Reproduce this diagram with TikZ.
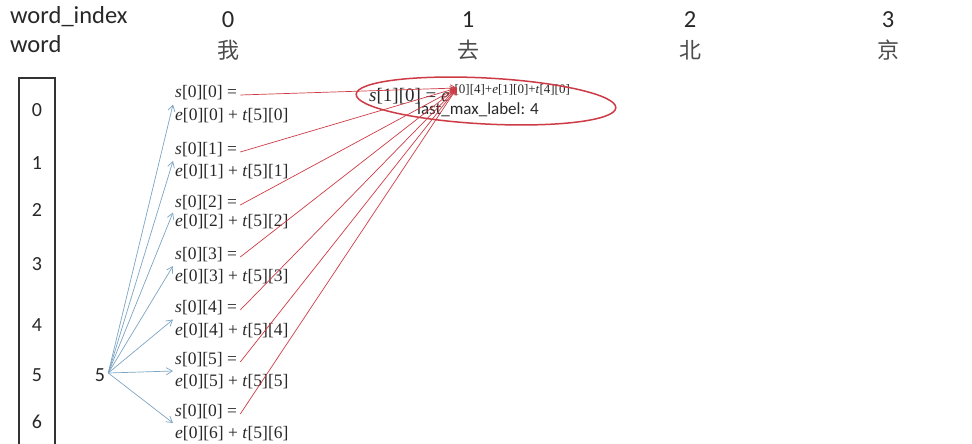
\documentclass[tikz,border=0pt]{standalone}
\usepackage{fontspec}
\setmainfont{Liberation Serif}
\newfontfamily\sansc{Carlito}
\newfontfamily\cjk{Noto Sans CJK SC}
\usetikzlibrary{arrows.meta,calc}
\definecolor{bluearr}{RGB}{125,165,195}
\definecolor{redarr}{RGB}{205,60,70}
\definecolor{txt}{RGB}{40,40,40}
\newcommand{\mi}[1]{\textit{#1}}
\begin{document}
\begin{tikzpicture}[x=1pt,y=-1pt,
  hdr/.style={font=\sansc\fontsize{24.5}{24.5}\selectfont, text=txt, inner sep=0pt},
  hanzi/.style={font=\cjk\fontsize{22}{22}\selectfont, text=black!70, inner sep=0pt},
  idx/.style={font=\sansc\fontsize{20}{20}\selectfont, text=txt, inner sep=0pt},
  lab/.style={font=\fontsize{17.5}{17.5}\selectfont, text=txt, inner sep=0pt, anchor=west},
  bluea/.style={draw=bluearr, line width=0.7pt, -{Straight Barb[length=6pt,width=7pt]}},
  reda/.style={draw=redarr, line width=0.7pt, -{Straight Barb[length=6pt,width=7pt]}}
]
\useasboundingbox (0,0) rectangle (972,444);
\fill[white] (0,0) rectangle (972,444);

% headers
\node[hdr, anchor=west] (wi) at (10,17) {word\_index};
\node[hdr, anchor=west] (wd) at (10,44) {word};
\node[hdr] (c0) at (228,20) {0};
\node[hdr] (c1) at (468,20) {1};
\node[hdr] (c2) at (690,20) {2};
\node[hdr] (c3) at (888,20) {3};
\node[hanzi] (h0) at (228,50) {我};
\node[hanzi] (h1) at (468,50) {去};
\node[hanzi] (h2) at (690,50) {北};
\node[hanzi] (h3) at (888,50) {京};

% label box
\draw[line width=1.1pt, draw=black!80] (19,449) -- (19,78) -- (55,78) -- (55,449);
\foreach \i/\y in {0/110,1/163,2/210,3/264,4/325,5/375,6/422}{
  \node[idx] (b\i) at (37,\y) {\i};
}

% source tag
\node[idx] (src) at (100,375) {5};

% s/e labels
\foreach \k/\ys/\ye/\ss in {0/93/116/0,1/150/172/1,2/203/222/2,3/255/277/3,4/308/331/4,5/360/382/5,6/412/434/0}{
  \node[lab] (s\k) at (175,\ys) {\mi{s}[0][\ss] =};
  \node[lab] (e\k) at (175,\ye) {\mi{e}[0][\k] + \mi{t}[5][\k]};
  \coordinate (m\k) at ($(s\k.west)!0.5!(e\k.west)$);
}

% formula in column 1
\node[anchor=west, inner sep=0pt, text=txt, font=\fontsize{19}{19}\selectfont] (f) at (369,94)
  {\mi{s}[1][0] = \mi{e}\raisebox{8pt}{\fontsize{13}{13}\selectfont\mi{s}[0][4]+\mi{e}[1][0]+\mi{t}[4][0]}};
\node[anchor=west, inner sep=0pt, text=txt, font=\sansc\fontsize{17}{17}\selectfont] (lm) at (417,110) {last\_max\_label: 4};
\draw[draw=redarr, line width=1.5pt, rotate around={-3:(486,101)}] (486,101) ellipse [x radius=130, y radius=23];
\coordinate (hub) at (457,88);

% blue arrows
\foreach \k in {0,...,6}{
  \draw[bluea] ($(src.east)+(3,-2)$) -- ($(m\k)+(-2,0)$);
}
% red arrows
\foreach \k in {0,...,6}{
  \draw[reda] ($(s\k.east)+(3,2)$) -- (hub);
}
\end{tikzpicture}
\end{document}
